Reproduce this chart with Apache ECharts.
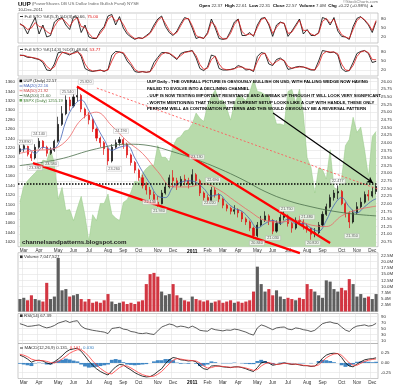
<!DOCTYPE html>
<html><head><meta charset="utf-8">
<script src="https://cdn.jsdelivr.net/npm/echarts@6/dist/echarts.min.js"></script>
<style>html,body{margin:0;padding:0;background:#fff}#c{width:400px;height:386px}</style>
</head><body><div id="c"></div>
<script>
// ---------- categories (week starts) ----------
const weeks = ['2010-02-22','2010-03-01','2010-03-08','2010-03-15','2010-03-22','2010-03-29','2010-04-05','2010-04-12','2010-04-19','2010-04-26',
'2010-05-03','2010-05-10','2010-05-17','2010-05-24','2010-05-31','2010-06-07','2010-06-14','2010-06-21','2010-06-28','2010-07-05',
'2010-07-12','2010-07-19','2010-07-26','2010-08-02','2010-08-09','2010-08-16','2010-08-23','2010-08-30','2010-09-06','2010-09-13',
'2010-09-20','2010-09-27','2010-10-04','2010-10-11','2010-10-18','2010-10-25','2010-11-01','2010-11-08','2010-11-15','2010-11-22',
'2010-11-29','2010-12-06','2010-12-13','2010-12-20','2010-12-27','2011-01-03','2011-01-10','2011-01-17','2011-01-24','2011-01-31',
'2011-02-07','2011-02-14','2011-02-21','2011-02-28','2011-03-07','2011-03-14','2011-03-21','2011-03-28','2011-04-04','2011-04-11',
'2011-04-18','2011-04-25','2011-05-02','2011-05-09','2011-05-16','2011-05-23','2011-05-30','2011-06-06','2011-06-13','2011-06-20',
'2011-06-27','2011-07-04','2011-07-11','2011-07-18','2011-07-25','2011-08-01','2011-08-08','2011-08-15','2011-08-22','2011-08-29',
'2011-09-05','2011-09-12','2011-09-19','2011-09-26','2011-10-03','2011-10-10','2011-10-17','2011-10-24','2011-10-31','2011-11-07',
'2011-11-14','2011-11-21','2011-11-28','2011-12-05'];
const monthTickWeeks = ['2010-03-01','2010-03-29','2010-05-03','2010-05-31','2010-06-28','2010-08-02','2010-08-30','2010-09-27','2010-11-01','2010-11-29',
'2011-01-03','2011-01-31','2011-02-28','2011-03-28','2011-05-02','2011-05-30','2011-06-27','2011-08-01','2011-08-29','2011-10-03','2011-10-31','2011-11-28'];
const monthTickLabels = ['Mar','Apr','May','Jun','Jul','Aug','Sep','Oct','Nov','Dec','2011','Feb','Mar','Apr','May','Jun','Jul','Aug','Sep','Oct','Nov','Dec'];

// ---------- UUP weekly OHLC ----------
const uupOpen = [23.70,23.80,23.88,23.62,23.50,23.85,24.05,23.85,23.65,23.75, 24.05,24.60,24.95,25.40,25.20,25.50,25.55,25.10,24.90,24.75,
24.45,24.15,24.00,23.80,23.40,23.85,24.00,24.10,23.95,23.60, 23.35,23.10,22.85,22.60,22.45,22.30,22.05,22.00,22.35,22.55,
22.85,22.75,22.60,22.80,22.75,22.65,22.95,22.75,22.35,22.20, 22.10,22.45,22.30,22.15,21.95,21.85,21.75,21.80,21.70,21.50,
21.40,21.20,20.95,21.30,21.45,21.60,21.45,21.10,21.35,21.55, 21.60,21.35,21.20,21.45,21.40,21.25,21.20,21.00,21.05,21.30,
21.65,21.90,22.20,22.35,22.40,22.00,21.70,21.40,21.70,21.90, 22.05,22.30,22.25,22.40];
const uupClose = [23.80,23.90,23.62,23.50,23.85,24.05,23.85,23.65,23.75,24.05, 24.60,24.95,25.40,25.20,25.50,25.55,25.10,24.90,24.75,24.45,
24.15,24.00,23.80,23.40,23.85,24.00,24.10,23.95,23.60,23.35, 23.10,22.85,22.60,22.45,22.30,22.05,22.00,22.35,22.55,22.85,
22.75,22.60,22.80,22.75,22.65,22.95,22.75,22.35,22.20,22.10, 22.45,22.30,22.15,21.95,21.85,21.75,21.80,21.70,21.50,21.40,
21.20,20.95,21.30,21.45,21.60,21.45,21.10,21.35,21.55,21.60, 21.35,21.20,21.45,21.40,21.25,21.20,21.00,21.05,21.30,21.65,
21.90,22.20,22.35,22.40,22.00,21.70,21.40,21.70,21.90,22.05, 22.30,22.25,22.40,22.57];
const uupLow = [23.62,23.70,23.55,23.40,23.45,23.80,23.78,23.55,23.60,23.70, 24.00,24.55,24.90,25.05,25.15,25.35,25.00,24.80,24.60,24.35,
24.05,23.85,23.60,23.26,23.35,23.80,23.90,23.80,23.50,23.25, 23.00,22.75,22.50,22.30,22.15,21.95,21.90,21.98,22.30,22.50,
22.55,22.45,22.55,22.60,22.50,22.60,22.60,22.25,22.10,22.00, 22.05,22.20,22.05,21.85,21.75,21.65,21.65,21.55,21.40,21.30,
21.10,20.84,20.90,21.25,21.40,21.30,21.00,21.05,21.30,21.45, 21.25,21.05,21.15,21.30,21.15,21.05,20.82,20.90,21.00,21.25,
21.60,21.85,22.10,22.15,21.95,21.55,21.20,21.35,21.65,21.85, 22.00,22.10,22.20,22.31];
const uupHigh = [23.92,23.95,23.90,23.70,23.95,24.15,24.08,23.90,23.85,24.10, 24.85,25.20,25.55,25.50,25.60,25.82,25.60,25.15,25.00,24.80,
24.50,24.20,24.05,23.85,23.95,24.10,24.19,24.15,24.00,23.65, 23.40,23.15,22.95,22.70,22.55,22.40,22.25,22.45,22.70,22.95,
23.10,22.85,22.90,22.95,22.85,23.13,23.00,22.80,22.40,22.30, 22.55,22.55,22.35,22.20,22.00,21.90,21.95,21.85,21.75,21.55,
21.45,21.25,21.40,21.60,21.75,21.65,21.50,21.45,21.65,21.75, 21.65,21.40,21.55,21.60,21.50,21.35,21.15,21.20,21.40,21.75,
22.00,22.30,22.45,22.60,22.45,22.05,21.75,21.80,22.05,22.20, 22.40,22.45,22.55,22.61];

// moving averages (sparse readings: week index -> value)
const ma20Idx = [0,2,4,6,8,10,12,14,16,18,20,22,24,26,28,30,32,34,36,38,40,42,44,46,48,50,52,54,56,58,60,62,64,66,68,70,72,74,76,78,80,82,84,86,88,90,92,93];
const ma20Val = [23.75,23.80,23.65,23.85,23.78,23.95,24.70,25.20,25.40,25.05,24.55,24.10,23.75,23.85,23.90,23.50,23.05,22.65,22.25,22.20,22.55,22.70,22.75,22.70,22.50,22.25,22.30,22.05,21.85,21.75,21.50,21.20,21.35,21.45,21.35,21.50,21.35,21.35,21.20,21.10,21.45,21.95,22.20,21.90,21.70,21.90,22.10,22.16];
const ma50Idx = [0,4,8,12,16,20,24,28,32,36,40,44,48,52,56,60,64,68,72,76,80,84,88,92,93];
const ma50Val = [23.65,23.75,23.78,24.05,24.75,25.00,24.55,24.05,23.65,23.05,22.55,22.55,22.65,22.45,22.10,21.75,21.45,21.40,21.45,21.30,21.25,21.60,21.80,21.90,21.92];
const ma200Idx = [0,10,20,28,34,40,46,52,58,64,70,76,82,88,93];
const ma200Val = [23.25,23.45,23.80,23.95,23.90,23.70,23.45,23.15,22.80,22.40,22.10,21.90,21.75,21.65,21.60];

// S&P 500 weekly close
const spx = [1105,1138,1150,1159,1167,1178,1194,1192,1217,1187, 1111,1136,1087,1089,1065,1092,1117,1076,1022,1078,
1065,1102,1102,1122,1079,1071,1065,1104,1110,1126, 1149,1147,1166,1176,1183,1183,1225,1200,1200,1190,
1224,1240,1244,1256,1258,1271,1294,1283,1276,1310, 1329,1343,1320,1321,1304,1279,1314,1332,1328,1320,
1338,1364,1340,1338,1333,1331,1300,1271,1271,1268, 1340,1344,1316,1345,1292,1199,1179,1124,1177,1174,
1154,1216,1136,1131,1155,1225,1238,1285,1253,1264, 1216,1159,1244,1255];

// volume (millions)
const volume = [5.0,5.5,4.5,6.5,5.0,4.5,4.0,11.5,5.0,6.0, 21.5,8.5,9.0,6.0,6.5,7.0,5.0,4.0,5.0,3.5,
4.0,3.5,4.5,7.0,4.0,3.0,3.5,4.0,3.0,3.5, 3.0,4.0,4.5,11.0,15.0,15.5,14.0,8.0,6.5,7.0,
11.0,6.5,5.5,4.5,4.0,6.0,5.0,4.5,4.0,4.5, 3.5,4.0,4.5,3.5,4.0,4.5,3.5,4.0,3.5,4.0,
4.5,8.0,18.0,11.0,8.0,9.0,6.5,8.5,6.0,5.0, 5.5,5.0,4.5,5.5,5.0,11.0,9.0,8.0,6.5,5.5,
12.5,12.0,9.0,8.0,9.5,8.5,13.0,11.0,6.0,7.0, 5.5,6.0,5.0,7.0];

// Full STO (5,3)
const sto1K = [65,55,30,60,85,30,60,20,25,70, 80,85,60,45,88,85,35,60,20,15, 15,40,55,90,95,60,88,50,30,20,
12,18,15,25,35,60,80,90,55,35, 25,40,65,85,80,50,15,20,15,35, 80,50,15,12,15,40,70,80,25,25,
35,22,60,82,85,60,22,60,70,65, 22,40,60,80,30,45,25,25,35,85, 80,60,85,40,22,20,12,55,82,88, 75,60,35,71];
const sto1D = [62,58,45,50,68,55,52,38,30,55, 75,82,70,55,75,85,55,52,32,18, 16,32,50,80,90,72,80,62,38,24,
15,16,16,22,32,52,75,86,65,42, 28,35,58,80,82,58,25,18,16,30, 70,58,25,14,14,32,62,78,38,26,
30,25,52,78,84,65,32,52,68,66, 32,36,55,76,42,42,30,25,32,72, 82,66,80,50,28,20,15,45,75,86, 78,63,42,75];
// Full STO (14,3)
const sto2K = [70,68,62,62,58,55,45,20,18,40, 78,80,75,70,78,84,65,25,18,15, 18,20,15,22,70,82,80,75,50,35,
15,12,15,12,15,45,62,78,78,75, 65,55,75,80,82,85,60,25,18,30, 70,65,25,20,20,22,25,35,30,20,
22,15,65,78,75,40,35,55,60,50, 22,25,30,32,30,25,20,20,50,85, 82,78,80,70,25,15,18,45,75,82, 85,75,45,49];
const sto2D = [68,69,65,62,60,56,50,32,22,30, 60,78,78,73,75,80,72,40,22,17, 17,19,17,20,50,75,80,78,60,42,
22,14,14,13,14,32,55,72,78,76, 68,58,68,78,81,84,68,38,22,26, 55,66,40,24,21,21,24,30,30,24,
22,18,48,72,76,52,38,48,56,52, 32,26,28,30,30,27,22,20,38,72, 82,80,80,74,40,20,18,35,65,80, 84,78,55,54];

// RSI(14)
const rsi = [66,62,57,58,60,62,56,52,55,60, 68,72,76,70,74,76,58,50,47,44, 42,40,38,33,50,52,54,48,46,40,
38,34,33,35,32,30,42,55,60,65, 62,55,58,56,52,58,52,44,42,41, 50,46,44,42,45,44,48,46,42,38,
32,28,52,62,58,52,46,52,54,55, 48,46,52,50,46,44,40,44,55,66, 70,72,68,66,55,45,40,52,58,60, 62,58,60,67];

// MACD(12,26,9)
const macd = [0.20,0.16,0.10,0.02,0.06,0.07,0.05,0.00,-0.03,0.03, 0.10,0.18,0.28,0.34,0.36,0.38,0.30,0.18,0.05,-0.06,
-0.15,-0.22,-0.27,-0.31,-0.20,-0.10,-0.04,-0.05,-0.12,-0.18, -0.25,-0.30,-0.34,-0.36,-0.35,-0.30,-0.22,-0.15,-0.02,0.08,
0.14,0.12,0.08,0.07,0.05,0.06,0.03,-0.08,-0.15,-0.17, -0.08,-0.07,-0.08,-0.10,-0.11,-0.12,-0.10,-0.10,-0.12,-0.15,
-0.19,-0.22,-0.12,0.00,0.03,0.00,-0.06,-0.04,-0.02,0.00, -0.02,-0.04,-0.03,-0.05,-0.07,-0.07,-0.09,-0.08,0.00,0.12,
0.20,0.24,0.25,0.24,0.14,0.00,-0.08,-0.10,-0.03,0.03, 0.08,0.10,0.11,0.131];
const macdSignal = [0.22,0.20,0.16,0.10,0.07,0.06,0.06,0.04,0.01,0.00, 0.04,0.10,0.17,0.25,0.30,0.34,0.34,0.27,0.17,0.05,
-0.05,-0.14,-0.21,-0.27,-0.28,-0.20,-0.12,-0.07,-0.08,-0.13, -0.19,-0.25,-0.30,-0.33,-0.35,-0.34,-0.29,-0.22,-0.12,-0.02,
0.07,0.11,0.10,0.08,0.07,0.06,0.05,0.00,-0.08,-0.13, -0.12,-0.09,-0.08,-0.09,-0.10,-0.11,-0.11,-0.10,-0.11,-0.13,
-0.16,-0.19,-0.17,-0.08,-0.02,0.01,-0.02,-0.04,-0.03,-0.01, -0.01,-0.03,-0.03,-0.04,-0.06,-0.07,-0.08,-0.08,-0.05,0.04,
0.13,0.19,0.23,0.24,0.20,0.10,0.00,-0.06,-0.06,-0.01, 0.04,0.07,0.09,0.101];
const macdHist = [-0.02,-0.04,-0.06,-0.08,-0.01,0.01,-0.01,-0.04,-0.04,0.03, 0.06,0.08,0.11,0.09,0.06,0.04,-0.04,-0.09,-0.12,-0.11,
-0.10,-0.08,-0.06,-0.04,0.08,0.10,0.08,0.02,-0.04,-0.05, -0.06,-0.05,-0.04,-0.03,0.00,0.04,0.07,0.07,0.10,0.10,
0.07,0.01,-0.02,-0.01,-0.02,0.00,-0.02,-0.08,-0.07,-0.04, 0.04,0.02,0.00,-0.01,-0.01,-0.01,0.01,0.00,-0.01,-0.02,
-0.03,-0.03,0.05,0.08,0.05,-0.01,-0.04,0.00,0.01,0.01, -0.01,-0.01,0.00,-0.01,-0.01,0.00,-0.01,0.00,0.05,0.08,
0.07,0.05,0.02,0.00,-0.06,-0.10,-0.08,-0.04,0.03,0.04, 0.04,0.03,0.02,0.03];

// annotation lines (week index, price)
const trendUpper = [[14.9,25.84],[81.0,20.71]];
const trendLower = [[3.4,23.33],[73.1,20.38]];
const trendDotted = [[20.1,25.79],[99.2,22.22]];
const arrowLine = [[66.1,24.97],[92.2,22.68]];
const resistance = 22.64;
const priceTags = [[1.3,24.02,'23.890'],[5.0,24.28,'24.140'],[3.9,23.17,'23.380'],[8.1,23.30,'23.580'],[12.5,25.66,'25.540'],
[17.2,25.99,'25.820'],[24.6,23.14,'23.260'],[26.4,24.38,'24.190'],[34.0,22.05,'22.150'],[36.3,21.76,'21.930'],
[46.2,23.53,'23.130'],[50.4,22.78,'22.690'],[49.6,22.02,'22.020'],[61.9,20.71,'20.840'],[69.7,21.82,'21.750'],
[66.1,20.87,'21.030'],[75.0,21.56,'21.480'],[76.5,20.71,'20.820'],[83.0,22.74,'22.477'],[86.7,20.94,'21.350']];

// axis tick labels
const stoTicks = [20,50,80];
const spxTicks = [1020,1040,1060,1080,1100,1120,1140,1160,1180,1200,1220,1240,1260,1280,1300,1320,1340,1360];
const uupTicks = [20.75,21.00,21.25,21.50,21.75,22.00,22.25,22.50,22.75,23.00,23.25,23.50,23.75,24.00,24.25,24.50,24.75,25.00,25.25,25.50,25.75,26.00];
const volTicks = [2.5,5,7.5,10,12.5,15,17.5,20,22.5];
const rsiTicks = [10,30,50,70,90];
const macdTicks = [-0.25,0,0.25];

// ---------- build ----------
const FONT = "'Liberation Sans', Arial, sans-serif";
const monthMap = {};
monthTickWeeks.forEach((w,k)=>{ monthMap[weeks.indexOf(w)] = monthTickLabels[k]; });
const isMonth = (i)=> monthMap[i] !== undefined;
const GRID_C = '#e2e2e2';

function catAxis(gi, showLabels){
  return {type:'category', gridIndex:gi, data:weeks, boundaryGap:true,
    axisLine:{show:false}, axisTick:{show:false},
    axisLabel:{show:showLabels, interval:(i)=>isMonth(i), margin:2, fontSize:4.6, fontFamily:FONT, color:'#333',
      formatter:(v,i)=> monthMap[i]==='2011' ? '{b|2011}' : (monthMap[i]||''),
      rich:{b:{fontWeight:'bold', fontSize:4.8, fontFamily:FONT, color:'#000'}}},
    splitLine:{show:true, interval:(i)=>isMonth(i), lineStyle:{color:GRID_C, width:0.6}}};
}
function valAxis(gi, pos, min, max, ticks, fmt, split){
  return {type:'value', gridIndex:gi, position:pos, min:min, max:max,
    axisLine:{show:false}, axisTick:{show:false, customValues:ticks},
    axisLabel:{customValues:ticks, formatter:fmt, fontSize:4.4, fontFamily:FONT, color:'#333', margin:3},
    splitLine:{show:split, lineStyle:{color:GRID_C, width:0.6}}};
}
const grids = [
  {left:18,right:22,top:13,height:30},
  {left:18,right:22,top:46,height:30},
  {left:18,right:22,top:78,height:168.7},
  {left:18,right:22,top:252.7,height:58.8},
  {left:18,right:22,top:313.5,height:30},
  {left:18,right:22,top:343.5,height:35}
].map(g=>Object.assign(g,{show:true, borderColor:'#a8a8a8', borderWidth:0.6, backgroundColor:'rgba(0,0,0,0)'}));

const xAxes = [catAxis(0,false),catAxis(1,false),catAxis(2,true),catAxis(3,false),catAxis(4,false),catAxis(5,true),
  {type:'value', gridIndex:2, min:-0.5, max:93.5, show:false, position:'top'}];
const yAxes = [
  valAxis(0,'right',0,100,stoTicks,v=>String(v),true),
  valAxis(1,'right',0,100,stoTicks,v=>String(v),true),
  valAxis(2,'left',1010,1368.5,spxTicks,v=>String(v),false),
  valAxis(2,'right',20.59,26.12,uupTicks,v=>v.toFixed(2),true),
  valAxis(3,'right',0,23.6,volTicks,v=>v.toFixed(1)+'M',true),
  valAxis(4,'right',0,100,rsiTicks,v=>String(v),true),
  valAxis(5,'right',-0.4,0.5,macdTicks,v=>v.toFixed(2),true)
];

const candles = uupOpen.map((o,i)=>[o, uupClose[i], uupLow[i], uupHigh[i]]);
const sparse = (idx,val)=> idx.map((k,j)=>[weeks[k], val[j]]);
const lineS = (name, xi, yi, data, color, w, extra)=> Object.assign({name, type:'line', xAxisIndex:xi, yAxisIndex:yi, data,
  showSymbol:false, symbol:'none', lineStyle:{color, width:w}, silent:true}, extra||{});

const series = [
  lineS('stoK1',0,0,sto1K,'#000',0.8),
  lineS('stoD1',0,0,sto1D,'#e01818',0.8),
  lineS('stoK2',1,1,sto2K,'#000',0.8),
  lineS('stoD2',1,1,sto2D,'#e01818',0.8),
  lineS('spx',2,2,spx,'#95c985',0.5,{areaStyle:{color:'#b8dbab', opacity:1}, z:1}),
  {name:'uup', type:'candlestick', xAxisIndex:2, yAxisIndex:3, data:candles, barWidth:1.6, z:3, silent:true,
    itemStyle:{color:'#111', color0:'#e01010', borderColor:'#111', borderColor0:'#e01010', borderWidth:0.7},
    markLine:{silent:true, symbol:'none', label:{show:false}, lineStyle:{color:'#000', type:'dotted', width:1.5},
      data:[{yAxis:resistance}]}},
  lineS('ma20',2,3,sparse(ma20Idx,ma20Val),'#4463b8',0.8,{smooth:0.4, z:4}),
  lineS('ma50',2,3,sparse(ma50Idx,ma50Val),'#ee6666',0.8,{smooth:0.4, z:4}),
  lineS('ma200',2,3,sparse(ma200Idx,ma200Val),'#4a6e4a',0.8,{smooth:0.4, z:4}),
  lineS('tu',6,3,trendUpper,'#ff0000',2.2,{clip:false, z:6}),
  lineS('tl',6,3,trendLower,'#ff0000',2.2,{clip:false, z:6}),
  lineS('td',6,3,trendDotted,'#ff5a5a',0.9,{clip:false, z:6, lineStyle:{color:'#ff5a5a', width:0.9, type:[2,2]}}),
  {name:'arrow', type:'line', xAxisIndex:6, yAxisIndex:3, data:[], z:7, silent:true,
    markLine:{silent:true, symbol:['none','arrow'], symbolSize:[5,6], label:{show:false},
      lineStyle:{color:'#000', width:1.2, type:'solid'},
      data:[[{coord:arrowLine[0]},{coord:arrowLine[1]}]]}},
  {name:'tags', type:'scatter', xAxisIndex:6, yAxisIndex:3, z:8, silent:true,
    data:priceTags.map(t=>({value:[t[0],t[1]], name:t[2]})), symbol:'rect', symbolSize:[15,4.6],
    itemStyle:{color:'rgba(255,255,255,0.9)', borderColor:'#aaa', borderWidth:0.4},
    label:{show:true, position:'inside', formatter:p=>p.name, fontSize:3.8, fontFamily:FONT, color:'#333'}},
  {name:'vol', type:'bar', xAxisIndex:3, yAxisIndex:4, barWidth:3.1, silent:true,
    data:volume.map((v,i)=>({value:v, itemStyle:{color: uupClose[i] < uupOpen[i] ? '#d23642' : '#5e5e5e'}}))},
  lineS('rsi',4,5,rsi,'#333',0.8),
  {name:'hist', type:'bar', xAxisIndex:5, yAxisIndex:6, data:macdHist, barWidth:3.9, silent:true,
    itemStyle:{color:'#3f86c4'}},
  lineS('macd',5,6,macd,'#000',0.8),
  lineS('signal',5,6,macdSignal,'#ff3b3b',0.8)
];

// ---------- texts ----------
const annot = ['UUP Daily - THE OVERALL PICTURE IS OBVIOUSLY BULLISH ON USD, WITH FALLING WEDGE NOW HAVING',
 'FAILED TO EVOLVE INTO A DECLINING CHANNEL',
 '- UUP IS NOW TESTING IMPORTANT RESISTANCE AND A BREAK UP THROUGH IT WILL LOOK VERY SIGNIFICANT.',
 '- WORTH MENTIONING THAT THOUGH THE CURRENT SETUP LOOKS LIKE A CUP WITH HANDLE, THESE ONLY',
 'PERFORM WELL AS CONTINUATION PATTERNS AND THIS WOULD OBVIOUSLY BE A REVERSAL PATTERN'];
const T = (x,y,text,style)=>({type:'text', x, y, z:100, silent:true,
  style:Object.assign({text, fontSize:4.4, fontFamily:FONT, fill:'#222', verticalAlign:'middle', align:'left'}, style||{})});
const R = (x,y,w,h,fill)=>({type:'rect', z:100, silent:true, shape:{x,y,width:w,height:h}, style:{fill}});
const graphic = [];
graphic.push(T(18,4,'{b|UUP} {g|(PowerShares DB US Dollar Index Bullish Fund) NYSE}',{rich:{b:{fontSize:6,fontWeight:'bold',fontFamily:FONT,fill:'#000'},g:{fontSize:4.4,fontFamily:FONT,fill:'#666'}}}));
graphic.push(T(18,9.8,'10-Dec-2011',{fill:'#444'}));
graphic.push(T(378,2.2,'\u00A9StockCharts.com',{align:'right', fill:'#777', fontSize:4.2}));
graphic.push(T(199,5.6,'{b|Open} 22.37  {b|High} 22.61  {b|Low} 22.31  {b|Close} 22.57  {b|Volume} 7.0M  {b|Chg} +0.22 (+0.98%) \u25B2',
  {fill:'#333', rich:{b:{fontWeight:'bold',fontSize:4.4,fontFamily:FONT,fill:'#000'}}}));
// panel headers
graphic.push(R(20,16,3,0.8,'#000'));
graphic.push(T(24.5,16.3,'Full STO %K(5,3) %D(3) 70.66, {r|75.00}',{fill:'#333', rich:{r:{fill:'#e01818',fontSize:4.4,fontFamily:FONT}}}));
graphic.push(R(20,49,3,0.8,'#000'));
graphic.push(T(24.5,49.3,'Full STO %K(14,3) %D(3) 48.84, {r|53.77}',{fill:'#333', rich:{r:{fill:'#e01818',fontSize:4.4,fontFamily:FONT}}}));
// main legend
graphic.push(R(19.5,79.6,2.6,2.6,'#000'));
graphic.push(T(23.5,81,'UUP (Daily) 22.57',{fontSize:4.1}));
graphic.push(R(19.5,85.6,3,0.8,'#4463b8'));
graphic.push(T(23.5,86,'MA(20) 22.16',{fontSize:4.1, fill:'#4463b8'}));
graphic.push(R(19.5,90.4,3,0.8,'#ee6666'));
graphic.push(T(23.5,90.8,'MA(50) 21.92',{fontSize:4.1, fill:'#d04848'}));
graphic.push(R(19.5,95.2,3,0.8,'#4a6e4a'));
graphic.push(T(23.5,95.6,'MA(200) 21.60',{fontSize:4.1, fill:'#4a6e4a'}));
graphic.push(R(19.5,99,2.6,2.6,'#6aa85a'));
graphic.push(T(23.5,100.4,'$SPX (Daily) 1255.19',{fontSize:4.1, fill:'#3e7a33'}));
annot.forEach((s,k)=> graphic.push(T(147,82.3+k*6.7,s,{fontSize:4.25, fontWeight:'bold', fill:'#000'})));
graphic.push(T(22,242.5,'channelsandpatterns.blogspot.com',{fontSize:6.2, fontWeight:'bold', fill:'#222'}));
graphic.push(R(20,255.5,2.6,2.6,'#333'));
graphic.push(T(24,257,'Volume 7,047,527',{fill:'#333'}));
graphic.push(R(20,314.4,2.6,2.6,'#333'));
graphic.push(T(24,315.8,'RSI(14) 67.39',{fill:'#333'}));
graphic.push(R(20,347.6,3,0.8,'#000'));
graphic.push(T(24.5,348,'MACD(12,26,9) 0.131, {r|0.101}, {bl|0.030}',{fill:'#333', rich:{r:{fill:'#ff3b3b',fontSize:4.4,fontFamily:FONT}, bl:{fill:'#3f86c4',fontSize:4.4,fontFamily:FONT}}}));

const chart = echarts.init(document.getElementById('c'), null, {width:400, height:386});
chart.setOption({animation:false, backgroundColor:'#fff', grid:grids, xAxis:xAxes, yAxis:yAxes, series, graphic});
</script></body></html>
